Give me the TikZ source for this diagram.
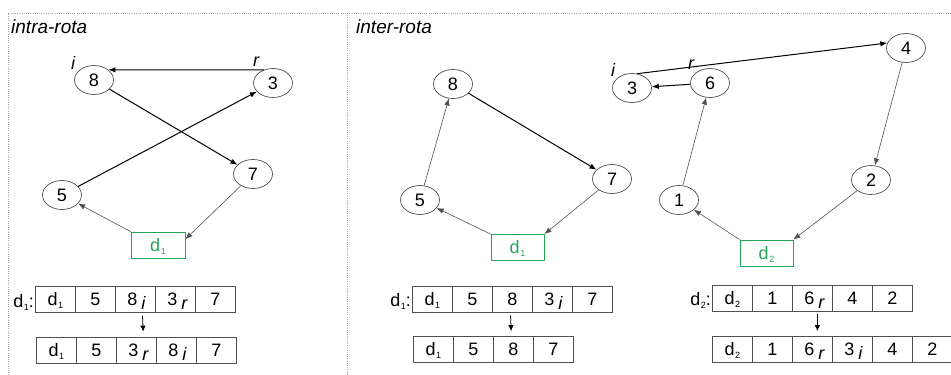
\documentclass[tikz,border=0pt]{standalone}
\usepackage{fontspec}
\setmainfont{Liberation Sans}
\usetikzlibrary{shapes.geometric,arrows.meta}
\definecolor{dgreen}{RGB}{35,165,85}
\definecolor{lgray}{RGB}{80,80,80}
\newcommand{\dsub}[1]{d\kern0.5pt\raisebox{-3pt}[0pt][0pt]{\fontsize{9}{9}\selectfont #1}}
\newcommand{\dl}[2]{\hspace{-6pt}#1\rlap{\hspace{4pt}\raisebox{-4pt}[0pt][0pt]{\itshape #2}}}
\begin{document}
\begin{tikzpicture}[x=1pt,y=-1pt,
  vert/.style={ellipse, draw=lgray, line width=0.7pt, minimum width=39pt, minimum height=29pt, inner sep=0pt, font=\fontsize{18}{18}\selectfont},
  depot/.style={rectangle, draw=dgreen, line width=0.8pt, text=dgreen, minimum width=53pt, minimum height=26pt, inner sep=0pt, font=\fontsize{18}{18}\selectfont},
  cell/.style={rectangle, draw=lgray, line width=0.8pt, minimum width=40pt, minimum height=26pt, inner sep=0pt, anchor=west, font=\fontsize{18}{18}\selectfont},
  arrname/.style={anchor=east, inner sep=1pt, font=\fontsize{18}{18}\selectfont},
  hard/.style={-{Latex[length=7pt,width=5.5pt]}, line width=1pt, black},
  soft/.style={-{Latex[length=7pt,width=5.5pt]}, line width=0.6pt, lgray},
  darrow/.style={-{Latex[length=6pt,width=5.5pt]}, line width=0.8pt, black, shorten <=3pt, shorten >=5pt},
  frame/.style={gray!70, line width=0.8pt, dash pattern=on 1pt off 1.2pt},
  tag/.style={font=\fontsize{18}{18}\selectfont\itshape, inner sep=0pt},
  ttl/.style={font=\fontsize{19}{19}\selectfont\itshape, inner sep=0pt, anchor=base west}
]
\useasboundingbox (0,0) rectangle (951,375);
% frame
\draw[frame] (951,13) -- (8,13) -- (8,375);
\draw[frame] (347,13) -- (347,375);
\node[ttl] (t1) at (11,33) {intra-rota};
\node[ttl] (t2) at (356,33) {inter-rota};

% ---------- left graph
\node[vert] (L8) at (94,80) {8};
\node[vert] (L3) at (273,83) {3};
\node[vert] (L7) at (253,174) {7};
\node[vert] (L5) at (62,195) {5};
\node[depot, minimum width=54pt] (Ld) at (158,245) {\dsub{1}};
\node[tag] (Li) at (73,63) {i};
\node[tag] (Lr) at (256,62) {r};
\draw[hard] (L3.125) -- (L8.35);
\draw[hard] (L8) -- (L7);
\draw[hard] (L5) -- (L3);
\draw[soft] (L7) -- (Ld.12);
\draw[soft] (Ld.north west) -- (L5);

% ---------- middle graph
\node[vert] (M8) at (453,84) {8};
\node[vert] (M7) at (612,179) {7};
\node[vert] (M5) at (420,200) {5};
\node[depot] (Md) at (517.5,247.5) {\dsub{1}};
\draw[soft] (M5) -- (M8);
\draw[hard] (M8) -- (M7);
\draw[soft] (M7) -- (Md.north east);
\draw[soft] (Md.north west) -- (M5);

% ---------- right graph
\node[vert] (R3) at (632,88) {3};
\node[vert] (R6) at (710,83) {6};
\node[vert] (R4) at (906,48) {4};
\node[vert] (R2) at (871,180) {2};
\node[vert] (R1) at (679,200) {1};
\node[depot] (Rd) at (766.5,253) {\dsub{2}};
\node[tag] (Ri) at (613,70) {i};
\node[tag] (Rr) at (691,65) {r};
\draw[hard] (R3.70) -- (R4.165);
\draw[hard] (R6) -- (R3);
\draw[soft] (R1) -- (R6);
\draw[soft] (R4) -- (R2);
\draw[soft] (R2) -- (Rd.north east);
\draw[soft] (Rd.north west) -- (R1);

% ---------- left arrays
\node[arrname] (LAn) at (35,301) {\dsub{1}:};
\foreach \t [count=\k] in {{\dsub{1}},5,{\dl{8}{i}},{\dl{3}{r}},7}
  \node[cell] (LA\k) at ({35+40*(\k-1)},299.5) {\t};
\foreach \t [count=\k] in {{\dsub{1}},5,{\dl{3}{r}},{\dl{8}{i}},7}
  \node[cell] (LB\k) at ({36+40*(\k-1)},350) {\t};
\draw[darrow] ([xshift=7pt]LA3.south) -- ([xshift=7pt]LB3.north);

% ---------- middle arrays
\node[arrname] (MAn) at (412,300) {\dsub{1}:};
\foreach \t [count=\k] in {{\dsub{1}},5,8,{\dl{3}{i}},7}
  \node[cell] (MA\k) at ({412+40*(\k-1)},299) {\t};
\foreach \t [count=\k] in {{\dsub{1}},5,8,7}
  \node[cell] (MB\k) at ({413+40*(\k-1)},349.5) {\t};
\draw[darrow] ([xshift=-2pt]MA3.south) -- ([xshift=-2pt]MB3.north);

% ---------- right arrays
\node[arrname] (RAn) at (712,299) {\dsub{2}:};
\foreach \t [count=\k] in {{\dsub{2}},1,{\dl{6}{r}},4,2}
  \node[cell] (RA\k) at ({712+40*(\k-1)},298) {\t};
\foreach \t [count=\k] in {{\dsub{2}},1,{\dl{6}{r}},{\dl{3}{i}},4,2}
  \node[cell] (RB\k) at ({712+40*(\k-1)},349.5) {\t};
\draw[darrow] ([xshift=5pt]RA3.south) -- ([xshift=5pt]RB3.north);
\end{tikzpicture}
\end{document}
